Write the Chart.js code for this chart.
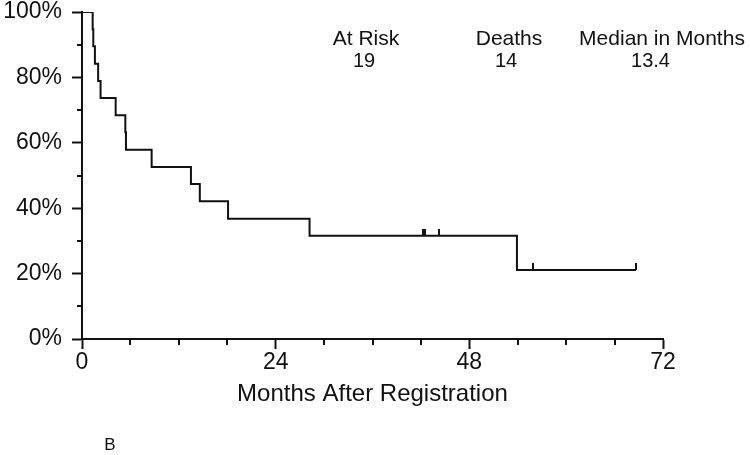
<!DOCTYPE html>
<html>
<head>
<meta charset="utf-8">
<script src="https://cdn.jsdelivr.net/npm/chart.js@4/dist/chart.umd.min.js"></script>
<style>
  html, body { margin: 0; padding: 0; background: #fff; }
  #wrap { width: 750px; height: 455px; }
</style>
</head>
<body>
<div id="wrap"><canvas id="c" width="750" height="455"></canvas></div>
<script>
// ---- data ----
const eventMonths   = [0, 1.32, 1.4, 1.6, 2.0, 2.3, 4.17, 5.37, 5.45, 8.63, 13.5, 14.6, 18.1, 28.2, 53.9, 68.65];
const survivalPct   = [100, 94.7, 89.5, 84.2, 78.9, 73.7, 68.4, 63.2, 57.9, 52.6, 47.4, 42.1, 36.8, 31.6, 21.1, 21.1];
const censorMonths  = [42.2, 42.5, 44.2, 55.9, 68.65];
const censorPct     = [31.6, 31.6, 31.6, 21.1, 21.1];
const headerLabels  = ['At Risk', 'Deaths', 'Median in Months'];
const headerValues  = ['19', '14', '13.4'];
const xTitle        = 'Months After Registration';
const panelLabel    = 'B';

const FONT = "'Liberation Sans', Arial, sans-serif";

// censor tick: vertical mark drawn upward from the point
const censorMark = document.createElement('canvas');
censorMark.width = 2; censorMark.height = 14;
(function () {
  const g = censorMark.getContext('2d');
  g.fillStyle = '#111';
  g.fillRect(0, 0, 2, 7);
})();

const extras = {
  id: 'extras',
  afterDraw(chart) {
    const ctx = chart.ctx;
    const xs = chart.scales.x, ys = chart.scales.y;
    ctx.save();
    ctx.strokeStyle = '#111';
    ctx.lineWidth = 2;
    // minor ticks
    for (let v = 6; v < 72; v += 6) {
      if (v % 24 === 0) continue;
      const px = Math.round(xs.getPixelForValue(v));
      ctx.beginPath();
      ctx.moveTo(px, ys.bottom);
      ctx.lineTo(px, ys.bottom + 6);
      ctx.stroke();
    }
    for (let v = 10; v < 100; v += 20) {
      const py = Math.round(ys.getPixelForValue(v));
      ctx.beginPath();
      ctx.moveTo(xs.left, py);
      ctx.lineTo(xs.left - 5, py);
      ctx.stroke();
    }
    // header text
    ctx.fillStyle = '#111';
    ctx.textAlign = 'center';
    ctx.textBaseline = 'alphabetic';
    const hx = [366, 509, 662];
    const vx = [364, 506, 650.5];
    headerLabels.forEach((t, i) => {
      ctx.font = '21px ' + FONT;
      ctx.fillText(t, hx[i], 45);
      ctx.font = '20px ' + FONT;
      ctx.fillText(headerValues[i], vx[i], 67);
    });
    ctx.font = '17px ' + FONT;
    ctx.fillText(panelLabel, 110, 450);
    ctx.restore();
  }
};

new Chart(document.getElementById('c'), {
  type: 'scatter',
  data: {
    datasets: [
      {
        data: eventMonths.map((m, i) => ({ x: m, y: survivalPct[i] })),
        showLine: true,
        stepped: 'before',
        borderColor: '#111',
        borderWidth: 2,
        pointRadius: 0,
        fill: false
      },
      {
        data: censorMonths.map((m, i) => ({ x: m, y: censorPct[i] })),
        showLine: false,
        pointStyle: censorMark,
        pointRadius: 7
      }
    ]
  },
  options: {
    responsive: false,
    animation: false,
    events: [],
    layout: { padding: { left: 0, right: 87, top: 12, bottom: 46 } },
    plugins: { legend: { display: false }, tooltip: { enabled: false } },
    scales: {
      x: {
        type: 'linear', min: 0, max: 72,
        ticks: { stepSize: 24, color: '#111', padding: 0, font: { family: FONT, size: 23 }, maxRotation: 0 },
        grid: { drawOnChartArea: false, drawTicks: true, tickLength: 10, tickColor: '#111', tickWidth: 2 },
        border: { display: true, color: '#111', width: 2 },
        title: { display: true, text: xTitle, color: '#111', font: { family: FONT, size: 24 }, padding: { top: 0, bottom: 0 } },
        afterFit(s) { s.height = 70; s.paddingLeft = 0; s.paddingRight = 0; }
      },
      y: {
        type: 'linear', min: 0, max: 100,
        ticks: { stepSize: 20, color: '#111', padding: 10, font: { family: FONT, size: 23 }, callback: v => v + '%' },
        grid: { drawOnChartArea: false, drawTicks: true, tickLength: 10, tickColor: '#111', tickWidth: 2 },
        border: { display: true, color: '#111', width: 2 },
        afterFit(s) { s.width = 82; s.paddingTop = 0; s.paddingBottom = 0; }
      }
    }
  },
  plugins: [extras]
});
</script>
</body>
</html>
